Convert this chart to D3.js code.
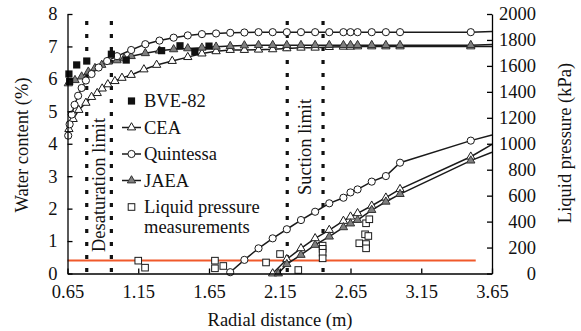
<!DOCTYPE html>
<html><head><meta charset="utf-8">
<script src="https://cdn.jsdelivr.net/npm/d3@7"></script>
<style>body{margin:0;background:#fff} svg text{font-family:"Liberation Serif","Times New Roman",Times,"DejaVu Serif",serif !important}</style>
</head><body><svg id="c" width="581" height="331"></svg>
<script>
// ---- data ----
const xTicks = [0.65, 1.15, 1.65, 2.15, 2.65, 3.15, 3.65];
const wcTicks = [0, 1, 2, 3, 4, 5, 6, 7, 8];
const kpaTicks = [0, 200, 400, 600, 800, 1000, 1200, 1400, 1600, 1800, 2000];

// Water content (%) – left axis
const bveX  = [0.66, 0.665, 0.715, 0.786, 0.96, 1.065, 1.315, 1.445, 1.55, 1.65];
const bveWc = [6.15, 5.92, 6.43, 6.55, 6.76, 6.58, 6.87, 7.02, 6.84, 7.01];

const ceaWcX = [0.66, 0.69, 0.73, 0.78, 0.82, 0.86, 0.895, 0.935, 0.985, 1.035, 1.1, 1.19, 1.28, 1.39, 1.5, 1.6, 1.7, 1.8, 1.9, 2.0, 2.1, 2.2, 2.3, 2.4, 2.5, 2.6, 2.65, 2.7, 2.8, 2.9, 3.0, 3.5, 3.65];
const ceaWc  = [4.45, 4.76, 5.04, 5.26, 5.44, 5.56, 5.70, 5.83, 5.93, 6.03, 6.12, 6.29, 6.43, 6.55, 6.67, 6.78, 6.85, 6.89, 6.89, 6.9, 6.91, 6.94, 6.96, 6.96, 6.98, 6.99, 6.99, 7.0, 7.0, 7.0, 7.0, 7.0, 7.0];

const quinWcX = [0.655, 0.665, 0.68, 0.70, 0.725, 0.75, 0.78, 0.82, 0.87, 0.93, 1.0, 1.1, 1.2, 1.3, 1.4, 1.5, 1.6, 1.7, 1.8, 1.9, 2.0, 2.1, 2.2, 2.3, 2.4, 2.5, 2.6, 2.65, 2.7, 2.8, 2.9, 3.0, 3.5, 3.65];
const quinWc  = [4.25, 4.6, 4.9, 5.2, 5.48, 5.72, 5.95, 6.15, 6.35, 6.55, 6.70, 6.89, 7.07, 7.18, 7.27, 7.34, 7.38, 7.40, 7.42, 7.43, 7.44, 7.44, 7.44, 7.44, 7.44, 7.44, 7.44, 7.44, 7.44, 7.44, 7.44, 7.44, 7.44, 7.46];

const jaeaWcX = [0.656, 0.703, 0.75, 0.797, 0.844, 0.892, 0.938, 1.0, 1.05, 1.1, 1.2, 1.3, 1.4, 1.5, 1.6, 1.7, 1.8, 1.9, 2.0, 2.1, 2.2, 2.3, 2.4, 2.5, 2.6, 2.65, 2.7, 2.8, 2.9, 3.0, 3.5, 3.65];
const jaeaWc  = [5.86, 5.96, 6.07, 6.22, 6.33, 6.43, 6.53, 6.57, 6.63, 6.70, 6.79, 6.87, 6.91, 6.94, 6.96, 6.99, 7.01, 7.03, 7.04, 7.04, 7.04, 7.04, 7.04, 7.04, 7.04, 7.04, 7.04, 7.04, 7.04, 7.04, 7.04, 7.06];

// Liquid pressure (kPa) – right axis
const quinPX = [1.8, 1.9, 2.0, 2.1, 2.2, 2.3, 2.4, 2.5, 2.6, 2.65, 2.7, 2.8, 2.9, 3.0, 3.5, 3.65];
const quinP  = [10, 105, 194, 271, 341, 412, 476, 541, 584, 625, 648, 708, 751, 854, 1024, 1067];

const ceaPX = [2.1, 2.2, 2.3, 2.4, 2.5, 2.6, 2.65, 2.7, 2.8, 2.9, 3.0, 3.5, 3.65];
const ceaP  = [0, 110, 194, 271, 335, 405, 438, 464, 522, 584, 650, 900, 995];

const jaeaPX = [2.14, 2.2, 2.3, 2.4, 2.5, 2.6, 2.65, 2.7, 2.8, 2.9, 3.0, 3.5, 3.65];
const jaeaP  = [0, 72, 143, 220, 284, 356, 385, 412, 489, 553, 612, 870, 935];

const measX = [1.15, 1.198, 1.692, 1.692, 1.751, 2.053, 2.152, 2.281, 2.453, 2.453, 2.453, 2.453, 2.712, 2.753, 2.76, 2.76, 2.76, 2.776, 2.783];
const measP = [99, 45, 99, 40, 58, 85, 150, 27, 215, 190, 160, 117, 233, 302, 387, 227, 194, 289, 418];

const limitX = [0.786, 0.96, 2.203, 2.456];
const refLineX = [0.65, 3.535];
const refLineP = [101, 101];

const legendNames = ["BVE-82", "CEA", "Quintessa", "JAEA", "Liquid pressure", "measurements"];

// ---- chart ----
const FONT = '"Liberation Serif", "Times New Roman", Times, "DejaVu Serif", serif';
const svg = d3.select("#c").style("font-family", FONT);
const x = d3.scaleLinear([0.65, 3.65], [67.5, 492]);
const yL = d3.scaleLinear([0, 8], [273.5, 14]);
const yR = d3.scaleLinear([0, 2000], [273.5, 14]);
const FS = "18.5px";
const ink = "#1a1a1a";

// dotted limit lines
svg.selectAll("line.lim").data(limitX).join("line")
  .attr("x1", d => x(d)).attr("x2", d => x(d))
  .attr("y1", 272).attr("y2", 17)
  .attr("stroke", "#111").attr("stroke-width", 3.2)
  .attr("stroke-dasharray", "4,9");

// reference red line
svg.append("line")
  .attr("x1", x(refLineX[0])).attr("x2", x(refLineX[1]))
  .attr("y1", yR(refLineP[0])).attr("y2", yR(refLineP[1]))
  .attr("stroke", "#f0592b").attr("stroke-width", 2);

const zip = (a, b) => a.map((v, i) => [v, b[i]]);

const series = [
  {xs: ceaWcX, ys: ceaWc, y: yL, sym: "triO"},
  {xs: jaeaWcX, ys: jaeaWc, y: yL, sym: "triG"},
  {xs: quinWcX, ys: quinWc, y: yL, sym: "circ"},
  {xs: ceaPX, ys: ceaP, y: yR, sym: "triO"},
  {xs: jaeaPX, ys: jaeaP, y: yR, sym: "triG"},
  {xs: quinPX, ys: quinP, y: yR, sym: "circ"},
];

const tri = d3.symbol().type(d3.symbolTriangle).size(30)();

function drawMarker(g, sym, cx, cy) {
  if (sym === "circ") {
    g.append("circle").attr("cx", cx).attr("cy", cy).attr("r", 3.6)
      .attr("fill", "#fff").attr("stroke", ink).attr("stroke-width", 1);
  } else if (sym === "triO" || sym === "triG") {
    g.append("path").attr("d", tri).attr("transform", `translate(${cx},${cy})`)
      .attr("fill", sym === "triO" ? "#fff" : "#7f7f7f").attr("stroke", sym === "triO" ? ink : "#333").attr("stroke-width", 1);
  } else if (sym === "sqF") {
    g.append("rect").attr("x", cx - 3.6).attr("y", cy - 3.6).attr("width", 7.2).attr("height", 7.2).attr("fill", "#111");
  } else if (sym === "sqO") {
    g.append("rect").attr("x", cx - 3.3).attr("y", cy - 3.3).attr("width", 6.6).attr("height", 6.6)
      .attr("fill", "#fff").attr("stroke", ink).attr("stroke-width", 1);
  }
}

series.forEach(s => {
  const pts = zip(s.xs, s.ys);
  svg.append("path").attr("d", d3.line().x(d => x(d[0])).y(d => s.y(d[1]))(pts))
    .attr("fill", "none").attr("stroke", ink).attr("stroke-width", 1.5);
});
series.forEach(s => {
  const g = svg.append("g");
  zip(s.xs, s.ys).forEach(p => {
    if (p[0] >= 3.6) return; // line end at chart edge, no marker
    drawMarker(g, s.sym, x(p[0]), s.y(p[1]));
  });
});

// BVE-82 squares
const gb = svg.append("g");
zip(bveX, bveWc).forEach(p => drawMarker(gb, "sqF", x(p[0]), yL(p[1])));
// measurements
const gm = svg.append("g");
zip(measX, measP).forEach(p => drawMarker(gm, "sqO", x(p[0]), yR(p[1])));

// axes
const styleAxis = g => {
  g.attr("font-family", FONT).attr("font-size", FS);
  g.selectAll(".domain").attr("stroke", "#000").attr("stroke-width", 1.3);
  g.selectAll(".tick line").attr("stroke", "#000").attr("stroke-width", 1.3);
  g.selectAll("text").style("font-family", FONT).style("font-size", FS).attr("fill", "#111");
};
svg.append("g").attr("transform", "translate(0,273.5)")
  .call(d3.axisBottom(x).tickValues(xTicks).tickFormat(d3.format(".2f")).tickSize(-5).tickSizeOuter(0).tickPadding(11.5))
  .call(styleAxis);
svg.append("g").attr("transform", "translate(67.5,0)")
  .call(d3.axisLeft(yL).tickValues(wcTicks).tickFormat(d3.format("d")).tickSize(-5).tickSizeOuter(0).tickPadding(10))
  .call(styleAxis);
const gr = svg.append("g").attr("transform", "translate(492,0)")
  .call(d3.axisRight(yR).tickValues(kpaTicks).tickFormat(d3.format("d")).tickSize(-5).tickSizeOuter(0))
  .call(styleAxis);
gr.selectAll("text").attr("text-anchor", "end").attr("x", 44);

function label(t) {
  return t.style("font-family", FONT).style("font-size", FS).attr("fill", "#111");
}
// axis titles
label(svg.append("text").attr("x", 280).attr("y", 326).attr("text-anchor", "middle")).text("Radial distance (m)");
label(svg.append("text").attr("transform", "translate(22,145) rotate(-90)").attr("text-anchor", "middle")
  .attr("dominant-baseline", "central")).text("Water content (%)");
label(svg.append("text").attr("transform", "translate(565,143) rotate(-90)").attr("text-anchor", "middle")
  .attr("dominant-baseline", "central")).text("Liquid pressure (kPa)");

// limit annotations
label(svg.append("text").attr("transform", `translate(${(x(limitX[0]) + x(limitX[1])) / 2},252) rotate(-90)`)
  .attr("dominant-baseline", "central")).text("Desaturation limit");
label(svg.append("text").attr("transform", `translate(${(x(limitX[2]) + x(limitX[3])) / 2},195) rotate(-90)`)
  .attr("dominant-baseline", "central")).text("Suction limit");

// legend
const legSyms = ["sqF", "triO", "circ", "triG", "sqO", null];
const legY = [101, 127.5, 154, 180.5, 207, 227];
const gl = svg.append("g");
legendNames.forEach((n, i) => {
  const cy = legY[i];
  const s = legSyms[i];
  if (s === "triO" || s === "triG" || s === "circ") {
    gl.append("line").attr("x1", 122).attr("x2", 141).attr("y1", cy).attr("y2", cy)
      .attr("stroke", ink).attr("stroke-width", 1.5);
  }
  if (s) drawMarker(gl, s, 131.5, cy);
  label(gl.append("text").attr("x", 144).attr("y", cy).attr("dominant-baseline", "central")).text(n);
});
</script></body></html>
